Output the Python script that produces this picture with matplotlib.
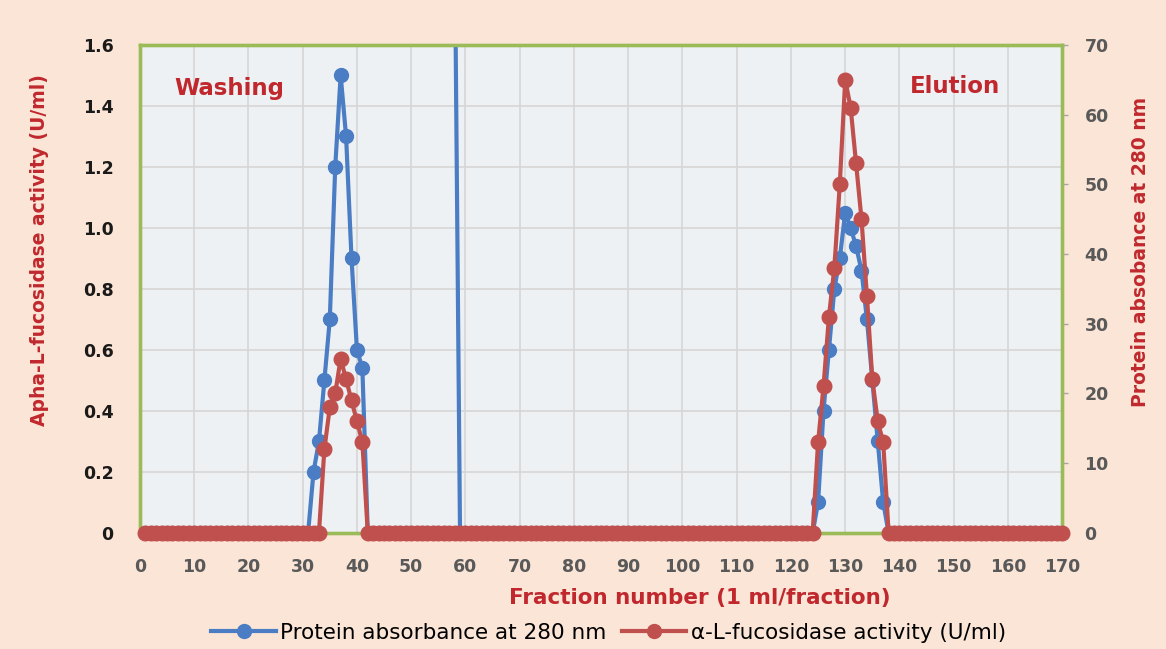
import matplotlib.pyplot as plt
import numpy as np

# fraction numbers 1..170, every fraction has a value
fractions = np.arange(1, 171)

# protein absorbance (blue), left scale; zero outside the listed fractions
protein_x = [32, 33, 34, 35, 36, 37, 38, 39, 40, 41,
             57, 58,
             125, 126, 127, 128, 129, 130, 131, 132, 133, 134, 135, 136, 137]
protein_y = [0.2, 0.3, 0.5, 0.7, 1.2, 1.5, 1.3, 0.9, 0.6, 0.54,
             np.nan, 2.0,
             0.1, 0.4, 0.6, 0.8, 0.9, 1.05, 1.0, 0.94, 0.86, 0.7, 0.5, 0.3, 0.1]

# fucosidase activity (red), right scale; zero outside the listed fractions
activity_x = [34, 35, 36, 37, 38, 39, 40, 41,
              125, 126, 127, 128, 129, 130, 131, 132, 133, 134, 135, 136, 137]
activity_y = [12, 18, 20, 25, 22, 19, 16, 13,
              13, 21, 31, 38, 50, 65, 61, 53, 45, 34, 22, 16, 13]

left_ticks = [0, 0.2, 0.4, 0.6, 0.8, 1.0, 1.2, 1.4, 1.6]
right_ticks = [0, 10, 20, 30, 40, 50, 60, 70]
x_ticks = list(range(0, 171, 10))

protein = np.zeros(len(fractions))
protein[np.array(protein_x) - 1] = protein_y
activity = np.zeros(len(fractions))
activity[np.array(activity_x) - 1] = activity_y

blue = '#4a7dc4'
red = '#c0504d'
text_red = '#c0282d'
green = '#9bbb59'
grey = '#595959'

plt.rcParams['font.family'] = ['DejaVu Sans']

fig = plt.figure(figsize=(11.66, 6.49), dpi=100, facecolor='#fbe5d6')
ax = fig.add_axes([0.120, 0.179, 0.791, 0.752])
ax.set_facecolor('#eef1f4')

ax.plot(fractions, protein, '-o', color=blue, lw=3.0, ms=10, mec=blue, zorder=3)
ax.set_xlim(0, 170)
ax.set_ylim(0, 1.6)
ax.set_xticks(x_ticks)
ax.set_yticks(left_ticks)
ax.set_yticklabels(['0' if v == 0 else f'{v:.1f}' for v in left_ticks])
ax.grid(True, color='#d6d6d6', lw=1.2)
ax.set_axisbelow(True)
ax.tick_params(axis='y', length=0, pad=19, labelsize=12.5, labelcolor='#1a1a1a')
ax.tick_params(axis='x', length=0, pad=18, labelsize=12.5, labelcolor=grey)
for lab in ax.get_xticklabels() + ax.get_yticklabels():
    lab.set_fontweight('bold')

ax2 = ax.twinx()
ax2.plot(fractions, activity, '-o', color=red, lw=3.0, ms=10.5, mec=red, clip_on=False, zorder=4)
ax2.set_ylim(0, 70)
ax2.set_yticks(right_ticks)
ax2.tick_params(axis='y', length=4, width=1, color='#a6a6a6', pad=12, labelsize=12.5, labelcolor=grey)
for lab in ax2.get_yticklabels():
    lab.set_fontweight('bold')

for a in (ax, ax2):
    for sp in a.spines.values():
        sp.set_color(green)
        sp.set_linewidth(2.4)

fig.text(0.197, 0.863, 'Washing', color=text_red, fontsize=16.5, fontweight='bold', ha='center', va='center')
fig.text(0.819, 0.866, 'Elution', color=text_red, fontsize=16.5, fontweight='bold', ha='center', va='center')

fig.text(0.034, 0.615, 'Apha-L-fucosidase activity (U/ml)', color=text_red, fontsize=13.5,
         fontweight='bold', rotation=90, ha='center', va='center')
fig.text(0.978, 0.612, 'Protein absobance at 280 nm', color=text_red, fontsize=13.5,
         fontweight='bold', rotation=90, ha='center', va='center')
fig.text(0.600, 0.079, 'Fraction number (1 ml/fraction)', color=text_red, fontsize=15.5,
         fontweight='bold', ha='center', va='center')

h1, = ax.plot([], [], '-o', color=blue, lw=3.0, ms=10)
h2, = ax.plot([], [], '-o', color=red, lw=3.0, ms=10)
fig.legend([h1, h2], ['Protein absorbance at 280 nm', 'α-L-fucosidase activity (U/ml)'],
           loc='center', bbox_to_anchor=(0.522, 0.025), ncol=2, frameon=False,
           fontsize=15.5, handlelength=3.0, handletextpad=0.2, columnspacing=0.7)

fig.savefig('out.png', dpi=100, facecolor=fig.get_facecolor())
